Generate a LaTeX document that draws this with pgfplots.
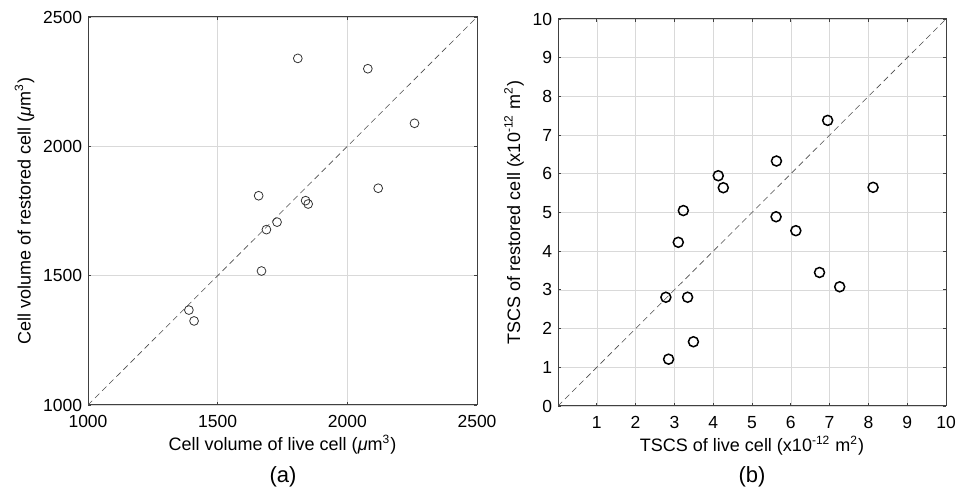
\documentclass[border=0pt]{standalone}
\usepackage{pgfplots}
\pgfplotsset{compat=1.18}
\usepackage{fontspec}
\setmainfont{Liberation Sans}

\pgfplotsset{
  matlab/.style={
    scale only axis,
    font=\fontsize{9}{10}\selectfont,
    tick label style={font=\fontsize{8.75}{10}\selectfont},
    /pgf/number format/assume math mode=true,
    /pgf/number format/1000 sep={},
    axis line style={black!75, line width=0.5pt},
    tick style={black!75, line width=0.4pt},
    major tick length=1.6pt,
    tick align=inside,
    grid=major,
    major grid style={black!15, line width=0.3pt},
    xticklabel style={inner sep=1.5pt, yshift=-3.5pt},
    yticklabel style={inner sep=2.8pt},
    xlabel style={yshift=1.5pt},
    ylabel style={yshift=-2pt},
  }
}

\begin{document}
\begin{tikzpicture}
\useasboundingbox (0,0) rectangle (478pt,248pt);

\begin{axis}[
  matlab,
  at={(44pt,45.5pt)}, anchor=south west,
  width=194.5pt, height=194pt,
  xmin=1000, xmax=2500, ymin=1000, ymax=2500,
  xtick={1000,1500,2000,2500},
  ytick={1000,1500,2000,2500},
  xlabel={Cell volume of live cell ({\itshape μ}m\textsuperscript{3})},
  ylabel={Cell volume of restored cell ({\itshape μ}m\textsuperscript{3})},
]
\addplot[black!70, line width=0.3pt, densely dashed] coordinates {(1000,1000) (2500,2500)};
\addplot[only marks, mark=o, mark size=2.2pt, mark options={black!80, line width=0.4pt}] coordinates {
  (1809,2340) (2079,2300) (2259,2089) (2119,1838) (1658,1809)
  (1839,1790) (1849,1777) (1729,1707) (1688,1678) (1669,1518)
  (1389,1367) (1409,1325)
};
\end{axis}

\begin{axis}[
  matlab,
  at={(279pt,45pt)}, anchor=south west,
  width=194pt, height=193.5pt,
  xmin=0, xmax=10, ymin=0, ymax=10,
  xtick={1,2,...,10},
  ytick={0,1,...,10},
  extra x ticks={0}, extra x tick labels={},
  extra x tick style={grid=none},
  xlabel={TSCS of live cell (x10\textsuperscript{-12} m\textsuperscript{2})},
  ylabel={TSCS of restored cell (x10\textsuperscript{-12} m\textsuperscript{2})},
]
\addplot[black!70, line width=0.3pt, densely dashed] coordinates {(0,0) (10,10)};
\addplot[only marks, mark=o, mark size=2.5pt, mark options={black, line width=0.75pt}] coordinates {
  (6.95,7.38) (5.63,6.33) (4.13,5.95) (4.26,5.64) (8.12,5.65)
  (3.23,5.05) (5.62,4.89) (6.13,4.53) (3.10,4.23) (6.74,3.45)
  (7.26,3.08) (2.78,2.81) (3.34,2.81) (3.49,1.66) (2.85,1.21)
};
\end{axis}

\node[font=\fontsize{11}{12}\selectfont] at (141.5pt,9.5pt) {(a)};
\node[font=\fontsize{11}{12}\selectfont] at (376pt,9.5pt) {(b)};
\end{tikzpicture}
\end{document}
